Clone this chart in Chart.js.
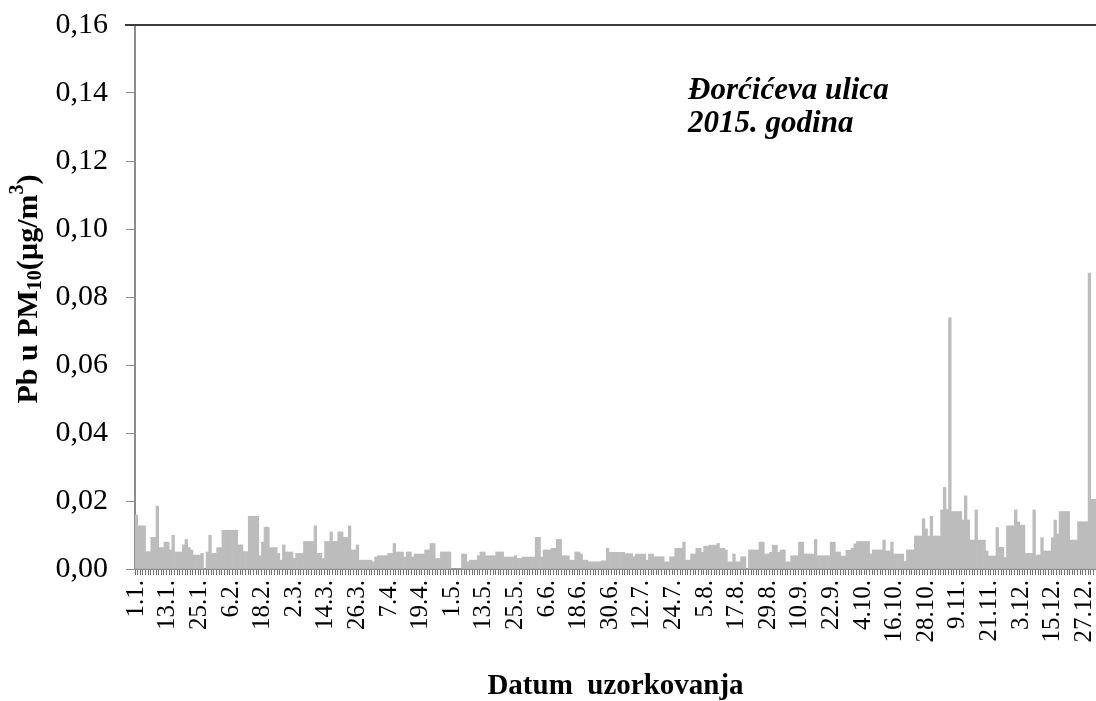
<!DOCTYPE html>
<html>
<head>
<meta charset="utf-8">
<script src="https://cdn.jsdelivr.net/npm/chart.js@4.4.1/dist/chart.umd.min.js"></script>
<style>
  html, body { margin: 0; padding: 0; background: #fff; }
</style>
</head>
<body>
<canvas id="graf" width="1096" height="701"></canvas>
<script>
// Pb u PM10 (µg/m3) - dnevne vrijednosti po mjesecima, 2015.
const jan = [0.0159, 0.0127, 0.0127, 0.0127, 0.0051, 0.0051, 0.0093, 0.0093, 0.0185, 0.0063,
             0.0063, 0.0079, 0.0079, 0.0056, 0.0099, 0.0050, 0.0050, 0.0050, 0.0071, 0.0087,
             0.0063, 0.0056, 0.0041, 0.0041, 0.0041, 0.0046, 0, 0.0050, 0.0099, 0.0046, 0.0046];
const feb = [0.0063, 0.0063, 0.0114, 0.0114, 0.0114, 0.0114, 0.0114, 0.0114, 0.0071, 0.0071,
             0.0051, 0.0051, 0.0155, 0.0155, 0.0155, 0.0155, 0.0039, 0.0079, 0.0123, 0.0123,
             0.0063, 0.0063, 0.0063, 0.0046, 0.0026, 0.0071, 0.0050, 0.0050];
const mar = [0.0050, 0.0031, 0.0046, 0.0046, 0.0046, 0.0081, 0.0081, 0.0081, 0.0081, 0.0127,
             0.0046, 0.0046, 0.0031, 0.0081, 0.0081, 0.0109, 0.0081, 0.0081, 0.0109, 0.0109,
             0.0093, 0.0093, 0.0127, 0.0056, 0.0056, 0.0071, 0.0026, 0.0026, 0.0026, 0.0026, 0.0026];
const apr = [0.0021, 0.0035, 0.0039, 0.0039, 0.0039, 0.0039, 0.0046, 0.0046, 0.0075, 0.0050,
             0.0050, 0.0050, 0.0035, 0.0050, 0.0050, 0.0035, 0.0044, 0.0044, 0.0044, 0.0044,
             0.0056, 0.0056, 0.0075, 0.0075, 0.0031, 0.0031, 0.0050, 0.0050, 0.0050, 0.0050];
const maj = [0, 0, 0, 0, 0.0044, 0.0044, 0.0021, 0.0026, 0.0026, 0.0026,
             0.0039, 0.0050, 0.0050, 0.0039, 0.0039, 0.0039, 0.0039, 0.0050, 0.0050, 0.0050,
             0.0035, 0.0035, 0.0035, 0.0035, 0.0039, 0.0031, 0.0031, 0.0035, 0.0035, 0.0035, 0.0035];
const jun = [0.0035, 0.0093, 0.0093, 0.0035, 0.0056, 0.0056, 0.0056, 0.0061, 0.0061, 0.0087,
             0.0087, 0.0039, 0.0039, 0.0039, 0.0026, 0.0026, 0.0050, 0.0050, 0.0044, 0.0026,
             0.0026, 0.0021, 0.0021, 0.0021, 0.0021, 0.0021, 0.0024, 0.0024, 0.0061, 0.0049];
const jul = [0.0049, 0.0049, 0.0049, 0.0049, 0.0049, 0.0045, 0.0045, 0.0045, 0.0036, 0.0044,
             0.0044, 0.0044, 0.0044, 0.0026, 0.0044, 0.0044, 0.0036, 0.0036, 0.0036, 0.0036,
             0.0021, 0.0021, 0.0036, 0.0036, 0.0061, 0.0061, 0.0061, 0.0079, 0.0026, 0.0026, 0.0044];
const avg = [0.0044, 0.0061, 0.0061, 0.0049, 0.0067, 0.0067, 0.0070, 0.0070, 0.0070, 0.0075,
             0.0061, 0.0061, 0.0056, 0.0021, 0.0021, 0.0044, 0.0021, 0.0021, 0.0036, 0.0036,
             0, 0.0056, 0.0056, 0.0056, 0.0056, 0.0079, 0.0079, 0.0044, 0.0044, 0.0049, 0.0070];
const sep = [0.0070, 0.0049, 0.0056, 0.0056, 0.0021, 0.0021, 0.0039, 0.0039, 0.0039, 0.0079,
             0.0079, 0.0044, 0.0044, 0.0044, 0.0044, 0.0087, 0.0039, 0.0039, 0.0039, 0.0039,
             0.0039, 0.0079, 0.0079, 0.0050, 0.0050, 0.0038, 0.0038, 0.0055, 0.0055, 0.0061];
const okt = [0.0074, 0.0081, 0.0081, 0.0081, 0.0081, 0.0081, 0.0044, 0.0056, 0.0056, 0.0056,
             0.0056, 0.0085, 0.0053, 0.0053, 0.0079, 0.0044, 0.0044, 0.0044, 0.0044, 0.0022,
             0.0056, 0.0056, 0.0056, 0.0097, 0.0097, 0.0097, 0.0148, 0.0118, 0.0097, 0.0155, 0.0097];
const nov = [0.0097, 0.0097, 0.0174, 0.0240, 0.0175, 0.0739, 0.0169, 0.0169, 0.0169, 0.0169,
             0.0144, 0.0215, 0.0144, 0.0085, 0.0085, 0.0174, 0.0085, 0.0085, 0.0085, 0.0053,
             0.0038, 0.0038, 0.0038, 0.0122, 0.0064, 0.0064, 0.0034, 0.0127, 0.0127, 0.0127];
const dec = [0.0174, 0.0139, 0.0129, 0.0129, 0.0046, 0.0046, 0.0046, 0.0174, 0.0041, 0.0041,
             0.0092, 0.0053, 0.0053, 0.0053, 0.0092, 0.0144, 0.0103, 0.0169, 0.0169, 0.0169,
             0.0169, 0.0085, 0.0085, 0.0085, 0.0139, 0.0139, 0.0139, 0.0139, 0.0870, 0.0205, 0.0205];

const mjeseci = [jan, feb, mar, apr, maj, jun, jul, avg, sep, okt, nov, dec];
const vrijednosti = mjeseci.flat();

// Kategorije: datumi uzorkovanja "d.m."
const datumi = [];
mjeseci.forEach((m, mi) => m.forEach((v, di) => datumi.push((di + 1) + '.' + (mi + 1) + '.')));

const korakOznaka = 12; // svaka 12. oznaka datuma je prikazana

// Naslov y osi sa indeksima (PM10, m3)
const naslovY = [
    { t: 'Pb u PM', s: 30, dy: 0 },
    { t: '10', s: 20, dy: 7 },
    { t: '(µg/m', s: 30, dy: 0 },
    { t: '3', s: 20, dy: -11 },
    { t: ')', s: 30, dy: 0 }
];

const dodaci = {
    id: 'dodaci',
    afterDraw(chart) {
        const ctx = chart.ctx;
        const a = chart.chartArea;
        ctx.save();
        // gornja linija okvira
        ctx.strokeStyle = '#3c3c3c';
        ctx.lineWidth = 2;
        ctx.beginPath();
        ctx.moveTo(a.left - 10, a.top);
        ctx.lineTo(a.right, a.top);
        ctx.stroke();

        // naslov y osi
        ctx.fillStyle = '#000';
        let ukupno = 0;
        naslovY.forEach(d => {
            ctx.font = 'bold ' + d.s + 'px "Liberation Serif"';
            ukupno += ctx.measureText(d.t).width;
        });
        ctx.translate(29, (a.top + a.bottom) / 2 - 8);
        ctx.rotate(-Math.PI / 2);
        ctx.textBaseline = 'middle';
        let x = -ukupno / 2;
        naslovY.forEach(d => {
            ctx.font = 'bold ' + d.s + 'px "Liberation Serif"';
            ctx.fillText(d.t, x, d.dy);
            x += ctx.measureText(d.t).width;
        });
        ctx.restore();

        // natpis lokacije
        ctx.save();
        ctx.fillStyle = '#000';
        ctx.font = 'italic bold 31px "Liberation Serif"';
        ctx.textBaseline = 'alphabetic';
        const lx = a.left + (a.right - a.left) * 0.5755;
        ctx.fillText('Đorćićeva ulica', lx, a.top + 74);
        ctx.fillText('2015. godina', lx, a.top + 107);
        ctx.restore();
    }
};

new Chart(document.getElementById('graf'), {
    type: 'bar',
    data: {
        labels: datumi,
        datasets: [{
            label: 'Pb u PM10',
            data: vrijednosti,
            backgroundColor: '#bcbcbc',
            borderWidth: 0,
            barPercentage: 1,
            categoryPercentage: 1
        }]
    },
    options: {
        responsive: false,
        animation: false,
        devicePixelRatio: 1,
        layout: { padding: { top: 25, right: 0, bottom: 0, left: 0 } },
        plugins: {
            legend: { display: false },
            tooltip: { enabled: false }
        },
        scales: {
            x: {
                grid: { drawOnChartArea: false, tickLength: 6, tickColor: '#6e6e6e' },
                border: { color: '#8c8c8c', width: 2 },
                ticks: {
                    autoSkip: false,
                    minRotation: 90,
                    maxRotation: 90,
                    padding: 5,
                    color: '#000',
                    font: { family: 'Liberation Serif', size: 25 },
                    callback: function(value, index) {
                        return index % korakOznaka === 0 ? datumi[index] : '';
                    }
                },
                title: {
                    display: true,
                    text: 'Datum  uzorkovanja',
                    color: '#000',
                    font: { family: 'Liberation Serif', size: 29, weight: 'bold', lineHeight: 1 },
                    padding: 0
                },
                afterFit: function(scale) {
                    scale.height = 132;
                    scale.paddingLeft = 0;
                    scale.paddingRight = 0;
                }
            },
            y: {
                min: 0,
                max: 0.16,
                grid: { drawOnChartArea: false, tickLength: 9, tickColor: '#8c8c8c' },
                border: { color: '#8c8c8c', width: 2 },
                ticks: {
                    stepSize: 0.01,
                    padding: 18,
                    color: '#000',
                    font: { family: 'Liberation Serif', size: 30 },
                    callback: function(value) {
                        const n = Math.round(value * 100);
                        return n % 2 === 0 ? (n / 100).toFixed(2).replace('.', ',') : '';
                    }
                },
                afterFit: function(scale) {
                    scale.width = 135;
                    scale.paddingTop = 0;
                    scale.paddingBottom = 0;
                }
            }
        }
    },
    plugins: [dodaci]
});
</script>
</body>
</html>
